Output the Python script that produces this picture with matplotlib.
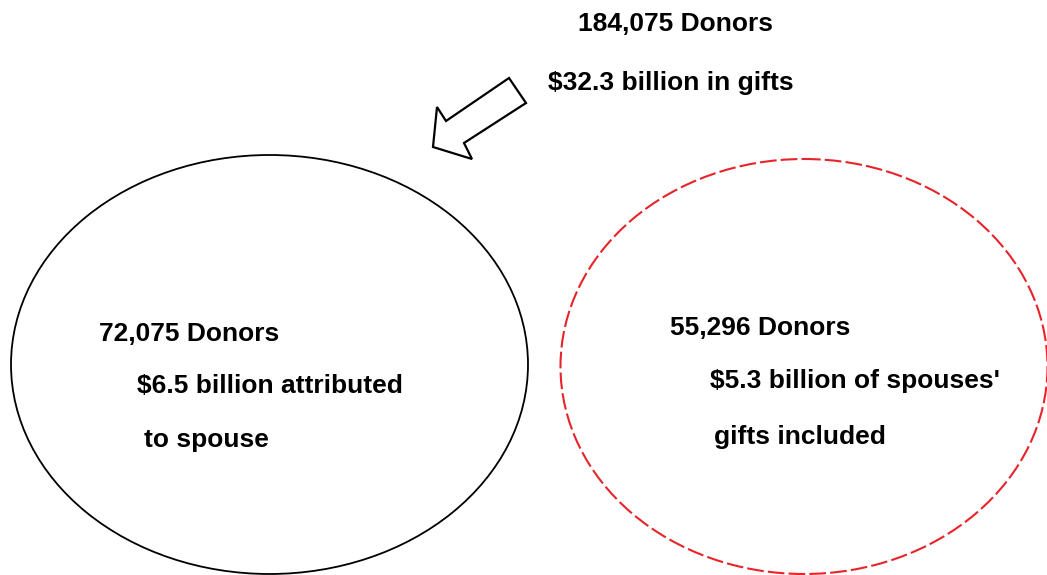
import matplotlib.pyplot as plt
from matplotlib.patches import Ellipse, Polygon

# Text of the diagram
top_lines = ["184,075 Donors", "$32.3 billion in gifts"]
left_lines = ["72,075 Donors", "$6.5 billion attributed", "to spouse"]
right_lines = ["55,296 Donors", "$5.3 billion of spouses'", "gifts included"]

plt.rcParams['font.family'] = ['Liberation Sans', 'DejaVu Sans']

fig = plt.figure(figsize=(10.47, 5.75), dpi=100)
ax = fig.add_axes([0, 0, 1, 1])
ax.set_xlim(0, 1047)
ax.set_ylim(575, 0)
ax.axis('off')

# circles
ax.add_patch(Ellipse((269.5, 364.5), 517, 419, fill=False, ec='black', lw=1.3))
ax.add_patch(Ellipse((804, 366.5), 487, 415, fill=False, ec='#e8232a', lw=1.5,
                     linestyle=(0, (8, 2))))

# block arrow pointing to the left circle
arrow = [(509, 78), (526, 103), (464, 143), (472, 159), (433, 147), (437, 107), (446, 121)]
ax.add_patch(Polygon(arrow, closed=True, fill=False, ec='black', lw=1.6, joinstyle='miter'))

fs = 19
for (x, y), s in zip([(578, 24), (548, 83)], top_lines):
    ax.text(x, y, s, fontsize=fs, fontweight='bold', va='center', ha='left')
for (x, y), s in zip([(99, 334), (137, 386), (144, 440)], left_lines):
    ax.text(x, y, s, fontsize=fs, fontweight='bold', va='center', ha='left')
for (x, y), s in zip([(670, 328), (710, 381), (714, 437)], right_lines):
    ax.text(x, y, s, fontsize=fs, fontweight='bold', va='center', ha='left')

fig.savefig('out.png', dpi=100)
